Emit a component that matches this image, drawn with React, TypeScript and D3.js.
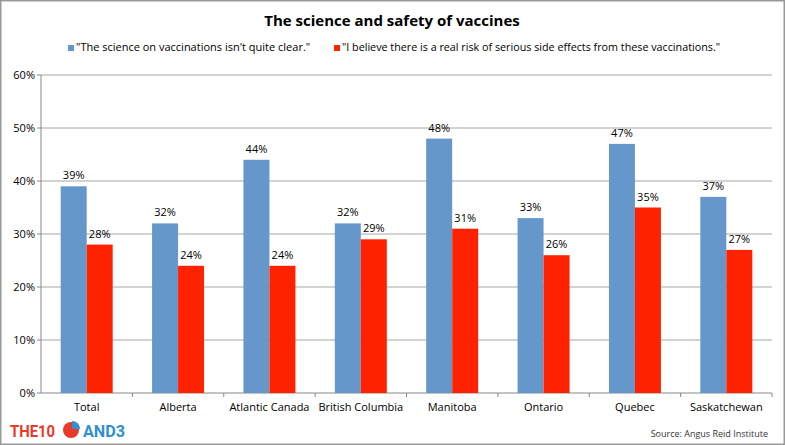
import React from "react";
import * as d3 from "d3";

const categories = ["Total", "Alberta", "Atlantic Canada", "British Columbia", "Manitoba", "Ontario", "Quebec", "Saskatchewan"];
const scienceUnclear = [39, 32, 44, 32, 48, 33, 47, 37];
const sideEffectsRisk = [28, 24, 24, 29, 31, 26, 35, 27];
const yTicks = [0, 10, 20, 30, 40, 50, 60];
const seriesNames = [
  "\"The science on vaccinations isn't quite clear.\"",
  "\"I believe there is a real risk of serious side effects from these vaccinations.\"",
];
const colors = ["#6597CB", "#FF2200"];

const W = 785, H = 445;
const left = 41, right = 772, top = 75, bottom = 393;
const font = "'Open Sans', sans-serif";

export default function App() {
  const x = d3.scaleBand().domain(categories).range([left, right]).paddingInner(0).paddingOuter(0);
  const y = d3.scaleLinear().domain([0, 60]).range([bottom, top]);
  const barW = 26;
  const series = [scienceUnclear, sideEffectsRisk];
  return (
    <svg width={W} height={H} style={{ position: "fixed", top: 0, left: 0, background: "#fff" }} fontFamily={font}>
      <rect x={0.5} y={0.5} width={W - 1} height={H - 1} fill="#fff" stroke="#999" strokeWidth={2} />
      <text x={392} y={26} textAnchor="middle" fontSize={15} fontWeight="bold" fill="#000">The science and safety of vaccines</text>
      {/* legend */}
      <rect x={68} y={45} width={6} height={6} fill={colors[0]} />
      <text x={76} y={51} fontSize={11} fill="#000">{seriesNames[0]}</text>
      <rect x={334} y={45} width={6} height={6} fill={colors[1]} />
      <text x={342} y={51} fontSize={11} fill="#000" textLength={378} lengthAdjust="spacingAndGlyphs">{seriesNames[1]}</text>
      {/* grid */}
      {yTicks.map((t) => (
        <g key={t}>
          <line x1={left} x2={right} y1={y(t)} y2={y(t)} stroke={t === 0 ? "#888" : "#A6A6A6"} strokeWidth={1} />
          <line x1={left - 4} x2={left} y1={y(t)} y2={y(t)} stroke="#888" />
          <text x={35} y={y(t) + 4} textAnchor="end" fontSize={11} fill="#000">{t}%</text>
        </g>
      ))}
      <line x1={left} x2={left} y1={top} y2={bottom} stroke="#888" />
      {categories.map((c, i) => (
        <line key={"t" + i} x1={(x(c) as number) + x.bandwidth()} x2={(x(c) as number) + x.bandwidth()} y1={bottom} y2={bottom + 4} stroke="#888" />
      ))}
      {/* bars */}
      {categories.map((c, i) => {
        const cx = (x(c) as number) + x.bandwidth() / 2;
        return (
          <g key={c}>
            {series.map((s, k) => {
              const bx = cx - barW + k * barW;
              return (
                <g key={k}>
                  <rect x={bx} y={y(s[i])} width={barW} height={bottom - y(s[i])} fill={colors[k]} />
                  <text x={bx + barW / 2} y={y(s[i]) - 7} textAnchor="middle" fontSize={11} fill="#000">{s[i]}%</text>
                </g>
              );
            })}
            <text x={cx} y={411} textAnchor="middle" fontSize={11} fill="#000">{c}</text>
          </g>
        );
      })}
      {/* logo */}
      <text x={10} y={437} fontSize={16} fontWeight="bold" fill="#E8392A" fontFamily="Roboto, sans-serif" textLength={45} lengthAdjust="spacingAndGlyphs">THE10</text>
      <circle cx={71} cy={430} r={8} fill="#E8392A" />
      <path d="M72,429 L72,421 A8,8 0 0,1 80,429 Z" fill="#2F8FD0" />
      <text x={83} y={437} fontSize={16} fontWeight="bold" fill="#2F8FD0" fontFamily="Roboto, sans-serif" textLength={42} lengthAdjust="spacingAndGlyphs">AND3</text>
      <text x={768} y={437} textAnchor="end" fontSize={9} fill="#333">Source: Angus Reid Institute</text>
    </svg>
  );
}
